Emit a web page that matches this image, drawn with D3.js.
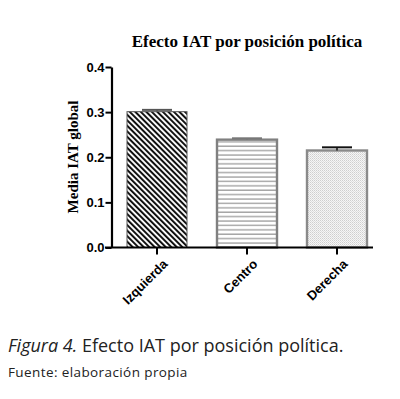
<!DOCTYPE html>
<html>
<head>
<meta charset="utf-8">
<script src="https://cdn.jsdelivr.net/npm/d3@7"></script>
<style>
  body { margin: 0; background: #fff; }
  svg { display: block; }
</style>
</head>
<body>
<div id="graf"></div>
<script>
// datos
categorias = ['Izquierda', 'Centro', 'Derecha']
medias     = [0.301, 0.239, 0.215]
errores    = [0.004, 0.003, 0.007]
ticksY     = [0.0, 0.1, 0.2, 0.3, 0.4]
patrones   = ['rayas', 'lineas', 'puntos']

ancho_total = 400
alto_total  = 399
fuenteEje = '"Liberation Sans", Arial, sans-serif'
fuenteSerif = '"Liberation Serif", "Times New Roman", serif'

svg = d3.select('#graf').append('svg')
        .attr('width', ancho_total)
        .attr('height', alto_total)

// patrones de relleno
defs = svg.append('defs')

p1 = defs.append('pattern')
          .attr('id', 'rayas')
          .attr('patternUnits', 'userSpaceOnUse')
          .attr('width', 3.9).attr('height', 10)
          .attr('patternTransform', 'rotate(-45)')
p1.append('rect').attr('width', 3.9).attr('height', 10).attr('fill', '#fff')
p1.append('line').attr('x1', 1).attr('x2', 1).attr('y1', 0).attr('y2', 10)
   .attr('stroke', '#111').attr('stroke-width', 2)

p2 = defs.append('pattern')
          .attr('id', 'lineas')
          .attr('patternUnits', 'userSpaceOnUse')
          .attr('width', 10).attr('height', 4.4)
p2.append('rect').attr('width', 10).attr('height', 4.4).attr('fill', '#fff')
p2.append('line').attr('x1', 0).attr('x2', 10).attr('y1', 1).attr('y2', 1)
   .attr('stroke', '#8a8a8a').attr('stroke-width', 1.1)

p3 = defs.append('pattern')
          .attr('id', 'puntos')
          .attr('patternUnits', 'userSpaceOnUse')
          .attr('width', 2).attr('height', 2)
p3.append('rect').attr('width', 2).attr('height', 2).attr('fill', '#f6f6f6')
p3.append('rect').attr('width', 1).attr('height', 1).attr('fill', '#cfcfcf')
p3.append('rect').attr('x', 1).attr('y', 1).attr('width', 1).attr('height', 1).attr('fill', '#dedede')

// escalas
x = d3.scaleBand()
      .domain(categorias)
      .range([112, 382])
      .paddingInner(1 / 3)
      .paddingOuter(1 / 6)
y = d3.scaleLinear()
      .domain([0, 0.4])
      .range([247.5, 67])

g = svg.append('g')

// titulo
svg.append('text')
    .attr('x', 247).attr('y', 47)
    .attr('text-anchor', 'middle')
    .style('font-family', fuenteSerif)
    .style('font-weight', 'bold')
    .style('font-size', '17px')
    .text('Efecto IAT por posición política')

// barras
datos = categorias.map((c, i) => ({ cat: c, media: medias[i], err: errores[i], pat: patrones[i] }))
bordes = ['#555', '#808080', '#8a8a8a']
capas  = ['#555', '#777', '#111']

g.selectAll('.barra')
  .data(datos)
  .join('rect')
    .attr('class', 'barra')
    .attr('x', d => x(d.cat))
    .attr('y', d => y(d.media))
    .attr('width', x.bandwidth())
    .attr('height', d => y(0) - y(d.media))
    .attr('fill', d => `url(#${d.pat})`)
    .attr('stroke', (d, i) => bordes[i])
    .attr('stroke-width', (d, i) => i == 0 ? 1 : 2.4)

// barras de error (solo superior)
g.selectAll('.err')
  .data(datos)
  .join('line')
    .attr('class', 'err')
    .attr('x1', d => x(d.cat) + x.bandwidth() / 2)
    .attr('x2', d => x(d.cat) + x.bandwidth() / 2)
    .attr('y1', d => y(d.media))
    .attr('y2', d => y(d.media + d.err))
    .attr('stroke', (d, i) => capas[i])
    .attr('stroke-width', 1.5)
g.selectAll('.cap')
  .data(datos)
  .join('line')
    .attr('class', 'cap')
    .attr('x1', d => x(d.cat) + x.bandwidth() / 2 - 15)
    .attr('x2', d => x(d.cat) + x.bandwidth() / 2 + 15)
    .attr('y1', d => y(d.media + d.err))
    .attr('y2', d => y(d.media + d.err))
    .attr('stroke', (d, i) => capas[i])
    .attr('stroke-width', 2)

// eje Y
yAxis = g.append('g')
          .attr('transform', 'translate(111.5, 0)')
          .call(d3.axisLeft(y).tickValues(ticksY).tickFormat(d3.format('.1f')).tickSize(6).tickSizeOuter(0))
yAxis.select('.domain').attr('stroke', '#000').attr('stroke-width', 2.2)
yAxis.selectAll('.tick line').attr('stroke', '#000').attr('stroke-width', 2)
yAxis.selectAll('.tick text')
      .attr('x', -7)
      .style('font-family', fuenteEje)
      .style('font-weight', 'bold')
      .style('font-size', '13px')
      .attr('fill', '#000')

// eje X
xAxis = g.append('g')
          .attr('transform', 'translate(0, 247.5)')
          .call(d3.axisBottom(x).tickSize(7).tickSizeOuter(0))
xAxis.select('.domain').attr('d', 'M105,0H373').attr('stroke', '#000').attr('stroke-width', 2.2)
xAxis.selectAll('.tick line').attr('stroke', '#000').attr('stroke-width', 2)
xAxis.selectAll('.tick text')
      .attr('text-anchor', 'end')
      .attr('transform', 'translate(5, 11) rotate(-45)')
      .attr('x', 0).attr('y', 0).attr('dy', '0.7em')
      .style('font-family', fuenteEje)
      .style('font-weight', 'bold')
      .style('font-size', '13px')
      .attr('fill', '#000')

// titulo eje Y
svg.append('text')
    .attr('transform', 'translate(78, 157) rotate(-90)')
    .attr('text-anchor', 'middle')
    .style('font-family', fuenteSerif)
    .style('font-weight', 'bold')
    .style('font-size', '15px')
    .text('Media IAT global')

// pie de figura
pie = svg.append('text')
          .attr('x', 8).attr('y', 352)
          .style('font-family', '"Open Sans", Lato, sans-serif')
          .style('font-size', '18px')
          .attr('fill', '#222')
pie.append('tspan').style('font-style', 'italic').text('Figura 4.')
pie.append('tspan').text(' Efecto IAT por posición política.')

svg.append('text')
    .attr('x', 8).attr('y', 377)
    .style('font-family', '"Open Sans", Lato, sans-serif')
    .style('font-size', '13.5px')
    .style('letter-spacing', '0.4px')
    .attr('fill', '#222')
    .text('Fuente: elaboración propia')
</script>
</body>
</html>
